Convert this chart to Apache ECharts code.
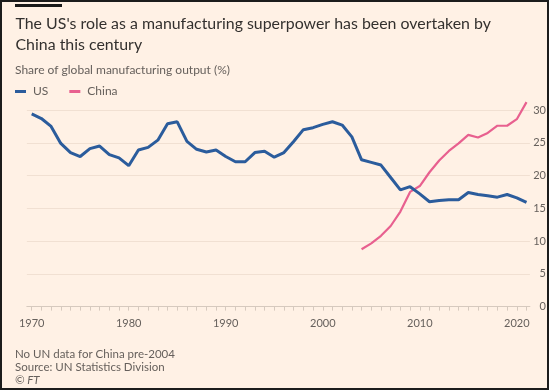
<!DOCTYPE html>
<html>
<head>
<meta charset="utf-8">
<script src="https://cdn.jsdelivr.net/npm/echarts@6/dist/echarts.min.js"></script>
<style>
html,body{margin:0;padding:0;background:#fff1e5;}
#chart{width:549px;height:390px;}
</style>
</head>
<body>
<div id="chart"></div>
<script>
// ---- Data ----
const years = [1970,1971,1972,1973,1974,1975,1976,1977,1978,1979,
               1980,1981,1982,1983,1984,1985,1986,1987,1988,1989,
               1990,1991,1992,1993,1994,1995,1996,1997,1998,1999,
               2000,2001,2002,2003,2004,2005,2006,2007,2008,2009,
               2010,2011,2012,2013,2014,2015,2016,2017,2018,2019,
               2020,2021];
const usShare = [29.4,28.7,27.5,24.9,23.5,22.9,24.1,24.5,23.2,22.7,
                 21.5,23.9,24.3,25.4,27.9,28.2,25.2,24.0,23.6,23.9,
                 22.9,22.1,22.1,23.5,23.7,22.8,23.5,25.2,27.0,27.3,
                 27.8,28.2,27.7,25.9,22.4,22.0,21.6,19.7,17.8,18.3,
                 17.2,16.0,16.2,16.3,16.3,17.4,17.1,16.9,16.7,17.1,
                 16.6,15.9];
const chinaYears = [2004,2005,2006,2007,2008,2009,2010,2011,2012,2013,
                    2014,2015,2016,2017,2018,2019,2020,2021];
const chinaShare = [8.75,9.65,10.8,12.3,14.5,17.5,18.4,20.5,22.3,23.75,
                    24.9,26.2,25.8,26.5,27.6,27.6,28.6,31.2];
const xTickLabels = [1970,1980,1990,2000,2010,2020];
const yTickLabels = [0,5,10,15,20,25,30];
const seriesNames = ['US','China'];
const titleLines = ["The US's role as a manufacturing superpower has been overtaken by", "China this century"];
const subtitleText = 'Share of global manufacturing output (%)';
const footerLines = ['No UN data for China pre-2004', 'Source: UN Statistics Division'];
const creditText = '\u00A9 FT';

// ---- Style ----
const FONT = 'Lato, "Open Sans", sans-serif';
const GREY = '#66605c';
const DARK = '#33302e';
const US_COLOR = '#2b5c9c';
const CN_COLOR = '#e8608f';

const usData = years.map((y, i) => [y, usShare[i]]);
const cnData = chinaYears.map((y, i) => [y, chinaShare[i]]);

const chart = echarts.init(document.getElementById('chart'), null, {renderer: 'canvas'});

function txt(text, x, y, size, color, extra) {
  return {
    type: 'text', x: x, y: y, silent: true,
    style: Object.assign({
      text: text, fill: color, fontSize: size, fontFamily: FONT,
      align: 'left', verticalAlign: 'middle'
    }, extra || {})
  };
}

chart.setOption({
  backgroundColor: '#fff1e5',
  animation: false,
  grid: {left: 26.85, right: 19.1, top: 110, bottom: 83.4},
  legend: {
    data: seriesNames,
    left: 15, top: 85.5, padding: 0,
    icon: 'rect', itemWidth: 11, itemHeight: 3, itemGap: 21,
    textStyle: {color: GREY, fontSize: 12, fontFamily: FONT, padding: [0,0,0,2]}
  },
  xAxis: {
    type: 'value', min: 1969.5, max: 2021.35,
    axisLine: {show: true, lineStyle: {color: '#d6c9be', width: 1}},
    axisTick: {show: true, customValues: years, length: 4, lineStyle: {color: '#d6c9be'}},
    axisLabel: {customValues: xTickLabels, color: GREY, fontSize: 11, fontFamily: FONT, margin: 11,
                formatter: v => String(v)},
    splitLine: {show: false}
  },
  yAxis: {
    type: 'value', position: 'right', min: 0, max: 30, interval: 5,
    axisLine: {show: false}, axisTick: {show: false},
    axisLabel: {customValues: yTickLabels, align: 'right', margin: 16, color: GREY, fontSize: 11, fontFamily: FONT,
                formatter: v => String(v)},
    splitLine: {show: true, lineStyle: {color: '#f1e0d2', width: 1}}
  },
  series: [
    {name: seriesNames[0], type: 'line', data: usData, showSymbol: false, clip: false,
     color: US_COLOR, lineStyle: {color: US_COLOR, width: 3}, z: 3},
    {name: seriesNames[1], type: 'line', data: cnData, showSymbol: false, clip: false,
     color: CN_COLOR, lineStyle: {color: CN_COLOR, width: 2.2}, z: 2}
  ],
  graphic: [
    {type: 'rect', silent: true, shape: {x: 1, y: 1, width: 547, height: 388},
     style: {fill: 'none', stroke: '#1c1c1c', lineWidth: 2}},
    {type: 'rect', silent: true, shape: {x: 15, y: 4, width: 47, height: 3}, style: {fill: '#1a1a1a'}},
    txt(titleLines[0], 15.5, 24.3, 15.9, DARK),
    txt(titleLines[1], 15.5, 44.7, 15.9, DARK),
    txt(subtitleText, 15, 70.5, 12, GREY),
    txt(footerLines[0], 15, 354, 11.5, GREY),
    txt(footerLines[1], 15, 367, 11.5, GREY),
    txt(creditText, 15, 380, 11.5, GREY, {fontStyle: 'italic'})
  ]
});
</script>
</body>
</html>
